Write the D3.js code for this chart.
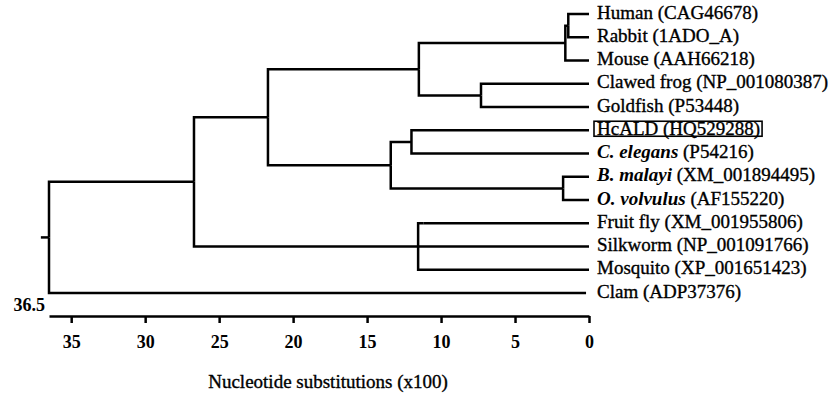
<!DOCTYPE html>
<html>
<head>
<meta charset="utf-8">
<script src="https://cdn.jsdelivr.net/npm/d3@7"></script>
<style>
  body { margin: 0; background: #fff; }
  text { font-family: "Liberation Serif", "Times New Roman", serif; fill: #000; }
  .heavy { stroke: #000; stroke-width: 0.35px; }
</style>
</head>
<body>
<div id="chart"></div>
<script>
// leaves, top to bottom
var leafIds     = ["Human", "Rabbit", "Mouse", "Frog", "Goldfish", "HcALD", "Celegans", "Bmalayi", "Ovolvulus", "Fruitfly", "Silkworm", "Mosquito", "Clam"];
var leafItalic  = ["", "", "", "", "", "", "C. elegans", "B. malayi", "O. volvulus", "", "", "", ""];
var leafText    = ["Human (CAG46678)", "Rabbit (1ADO_A)", "Mouse (AAH66218)", "Clawed frog (NP_001080387)", "Goldfish (P53448)",
                   "HcALD (HQ529288)", " (P54216)", " (XM_001894495)", " (AF155220)",
                   "Fruit fly (XM_001955806)", "Silkworm (NP_001091766)", "Mosquito (XP_001651423)", "Clam (ADP37376)"];
var leafParent  = ["n5", "n5", "n4", "n6", "n6", "n8", "n8", "n9", "n9", "n11", "n10", "n10", "root"];
var leafHeight  = [0, 0, 0, 0, 0, 0, 0, 0, 0, 0, 0, 0, 0.2];

// internal nodes: depth in substitutions (x100) measured back from the tips
var nodeIds     = ["root", "n1", "n2", "n3", "n4", "n5", "n6", "n7", "n8", "n9", "n10", "n11"];
var nodeParent  = ["", "root", "n1", "n2", "n3", "n4", "n3", "n2", "n7", "n7", "n1", "n10"];
var nodeHeight  = [36.5, 26.7, 21.7, 11.5, 1.6, 1.4, 7.3, 13.4, 12.0, 1.75, 11.55, 11.2];

var tickVals = [35, 30, 25, 20, 15, 10, 5, 0];
var rootLabel = "36.5";
var rootStem = 37.05;
var boxedLeaf = "HcALD";
var axisTitle = "Nucleotide substitutions (x100)";

var width = 836, height = 395;
var svg = d3.select("#chart").append("svg")
    .attr("width", width)
    .attr("height", height);

var x = d3.scaleLinear().domain([36.5, 0]).range([49, 589]);
var y = d3.scalePoint().domain(leafIds).range([14, 293]);

var rows = nodeIds.map(function(id, i) {
    return {id: id, parentId: nodeParent[i] || null, h: nodeHeight[i]};
}).concat(leafIds.map(function(id, i) {
    return {id: id, parentId: leafParent[i], h: leafHeight[i], idx: i};
}));

var root = d3.stratify()
    .id(function(d) { return d.id; })
    .parentId(function(d) { return d.parentId; })(rows);

// y of each node = middle of its first and last child
root.eachAfter(function(d) {
    if (d.children) {
        d.children.sort(function(a, b) { return a.yy - b.yy; });
        d.yy = (d.children[0].yy + d.children[d.children.length - 1].yy) / 2;
    } else {
        d.yy = y(d.id);
    }
});

var g = svg.append("g");

g.selectAll(".link")
    .data(root.descendants().slice(1))
    .enter().append("path")
    .attr("class", "link")
    .attr("fill", "none")
    .attr("stroke", "#000")
    .attr("stroke-width", 2.5)
    .attr("d", function(d) {
        return "M" + x(d.parent.data.h) + "," + d.parent.yy
            + "V" + d.yy
            + "H" + x(d.data.h);
    });

// root stem
g.append("line")
    .attr("x1", x(rootStem)).attr("x2", x(root.data.h))
    .attr("y1", root.yy).attr("y2", root.yy)
    .attr("stroke", "#000")
    .attr("stroke-width", 2.5);

// tip labels
var labels = g.selectAll(".leaf")
    .data(root.leaves())
    .enter().append("text")
    .attr("class", "leaf heavy")
    .attr("x", x(0) + 8)
    .attr("y", function(d) { return d.yy; })
    .attr("dy", "0.24em")
    .style("font-size", "19px");

labels.each(function(d) {
    var t = d3.select(this);
    var i = d.data.idx;
    if (leafItalic[i]) {
        t.append("tspan").style("font-style", "italic").style("font-weight", "bold")
            .style("stroke-width", "0px").text(leafItalic[i]);
    }
    t.append("tspan").text(leafText[i]);
});

// box round HcALD
labels.filter(function(d) { return d.id === boxedLeaf; }).each(function(d) {
    var bb = this.getBBox();
    g.append("rect")
        .attr("x", bb.x - 3)
        .attr("y", d.yy - 9)
        .attr("width", bb.width + 5)
        .attr("height", 15)
        .attr("fill", "none")
        .attr("stroke", "#000")
        .attr("stroke-width", 1.6);
});

// axis
var axisY = 316;
var axis = svg.append("g")
    .attr("transform", "translate(0," + axisY + ")")
    .call(d3.axisBottom(x).tickValues(tickVals).tickSize(7).tickSizeOuter(0).tickPadding(12));

axis.select(".domain").attr("stroke", "#000").attr("stroke-width", 2.5);
axis.selectAll(".tick line").attr("stroke", "#000").attr("stroke-width", 2.5);
axis.selectAll(".tick text")
    .style("font-family", "'Liberation Serif', serif")
    .style("font-size", "18px")
    .style("font-weight", "bold")
    .attr("fill", "#000");

svg.append("text")
    .attr("x", x(36.5) - 4)
    .attr("y", 311)
    .attr("text-anchor", "end")
    .style("font-size", "18px")
    .style("font-weight", "bold")
    .text(rootLabel);

svg.append("text")
    .attr("class", "heavy")
    .attr("x", 328)
    .attr("y", 388)
    .attr("text-anchor", "middle")
    .style("font-size", "19px")
    .text(axisTitle);
</script>
</body>
</html>
